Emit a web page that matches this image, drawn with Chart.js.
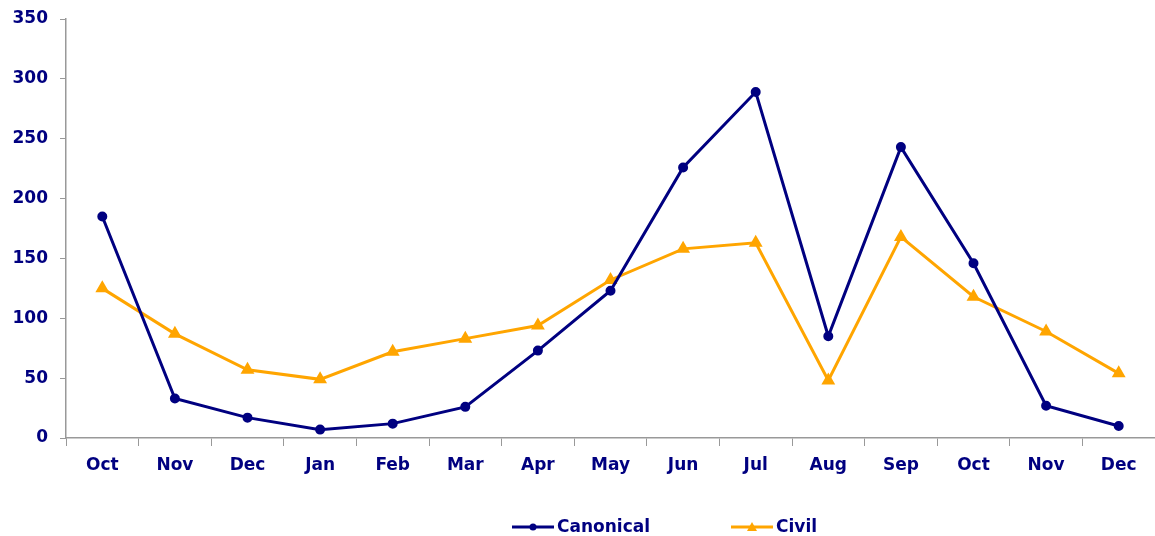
<!DOCTYPE html>
<html>
<head>
<meta charset="utf-8">
<script src="https://cdn.jsdelivr.net/npm/chart.js@4"></script>
<style>
  html, body { margin: 0; padding: 0; background: #fff; }
  canvas { display: block; }
</style>
</head>
<body>
<canvas id="lineChart" width="1155" height="536"></canvas>
<script>
// Data
const months = ['Oct', 'Nov', 'Dec', 'Jan', 'Feb', 'Mar', 'Apr', 'May', 'Jun', 'Jul', 'Aug', 'Sep', 'Oct', 'Nov', 'Dec'];
const canonical = [185, 33, 17, 7, 12, 26, 73, 123, 226, 289, 85, 243, 146, 27, 10];
const civil = [125, 87, 57, 49, 72, 83, 94, 132, 158, 163, 48, 168, 118, 89, 54];

const navy = '#000080';
const orange = '#FFA500';
const axisGrey = '#999999';
const fontFamily = '"DejaVu Sans", Verdana, sans-serif';

// Legend drawn by hand: line + marker + label, like the original
const lineLegend = {
    id: 'lineLegend',
    afterDraw(chart) {
        const ctx = chart.ctx;
        const items = [
            { label: 'Canonical', color: navy, style: 'circle', x: 512 },
            { label: 'Civil', color: orange, style: 'triangle', x: 731 }
        ];
        const y = 527;
        ctx.save();
        items.forEach(item => {
            ctx.strokeStyle = item.color;
            ctx.lineWidth = 3;
            ctx.beginPath();
            ctx.moveTo(item.x, y);
            ctx.lineTo(item.x + 42, y);
            ctx.stroke();
            ctx.fillStyle = item.color;
            const cx = item.x + 21;
            ctx.beginPath();
            if (item.style === 'circle') {
                ctx.arc(cx, y, 3.5, 0, Math.PI * 2);
            } else {
                ctx.moveTo(cx, y - 5);
                ctx.lineTo(cx + 5, y + 4);
                ctx.lineTo(cx - 5, y + 4);
                ctx.closePath();
            }
            ctx.fill();
            ctx.fillStyle = navy;
            ctx.font = 'bold 17px ' + fontFamily;
            ctx.textBaseline = 'middle';
            ctx.textAlign = 'left';
            ctx.fillText(item.label, item.x + 45, y + 1);
        });
        ctx.restore();
    }
};

const el = document.getElementById('lineChart');
new Chart(el.getContext('2d'), {
    type: 'line',
    data: {
        labels: months,
        datasets: [
            {
                label: 'Canonical',
                data: canonical,
                borderColor: navy,
                backgroundColor: navy,
                borderWidth: 3,
                pointStyle: 'circle',
                pointRadius: 3.5,
                tension: 0
            },
            {
                label: 'Civil',
                data: civil,
                borderColor: orange,
                backgroundColor: orange,
                borderWidth: 3,
                pointStyle: 'triangle',
                pointRadius: 5,
                tension: 0
            }
        ]
    },
    options: {
        responsive: false,
        animation: false,
        layout: { autoPadding: false, padding: { top: 19, right: 0, left: 0, bottom: 0 } },
        plugins: {
            legend: { display: false },
            tooltip: { enabled: false }
        },
        scales: {
            x: {
                offset: true,
                grid: {
                    display: true,
                    drawOnChartArea: false,
                    offset: true,
                    color: axisGrey,
                    tickLength: 8
                },
                border: { color: axisGrey, width: 1.5 },
                ticks: {
                    color: navy,
                    padding: 9,
                    maxRotation: 0,
                    autoSkip: false,
                    font: { family: fontFamily, size: 17, weight: 'bold' }
                },
                afterFit(scale) {
                    scale.height = 98;
                    scale.paddingLeft = 0;
                    scale.paddingRight = 0;
                }
            },
            y: {
                min: 0,
                max: 350,
                grid: {
                    display: true,
                    drawOnChartArea: false,
                    color: axisGrey,
                    tickLength: 6
                },
                border: { color: axisGrey, width: 1.5 },
                ticks: {
                    stepSize: 50,
                    color: navy,
                    padding: 12,
                    font: { family: fontFamily, size: 17, weight: 'bold' }
                },
                afterFit(scale) {
                    scale.width = 66;
                    scale.paddingTop = 0;
                    scale.paddingBottom = 0;
                }
            }
        }
    },
    plugins: [lineLegend]
});
</script>
</body>
</html>
